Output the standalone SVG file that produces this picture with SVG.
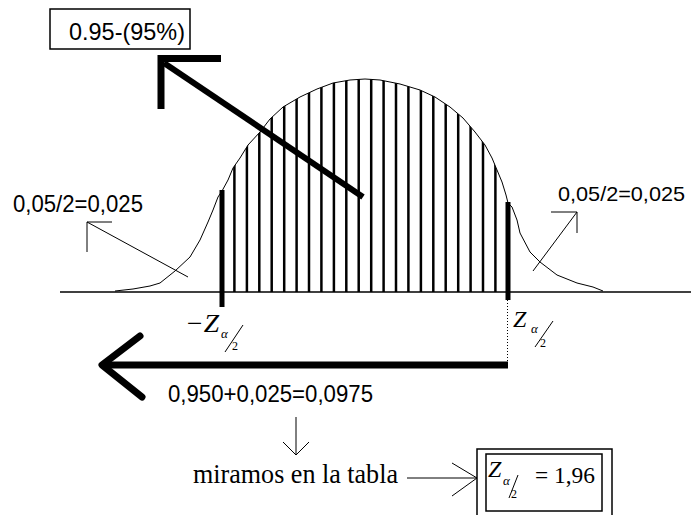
<svg xmlns="http://www.w3.org/2000/svg" width="691" height="515" viewBox="0 0 691 515">
<style>
.sans{font-family:"Liberation Sans",Arial,sans-serif;font-size:24px;fill:#000}
.serif{font-family:"Liberation Serif","Times New Roman",serif;fill:#000}
.it{font-style:italic}
.thin{stroke:#000;stroke-width:1;fill:none}
.hatch line{stroke:#000;stroke-width:2.5}
.thick{stroke:#000;fill:none}
.box{fill:#fff;stroke:#000;stroke-width:1.5}
</style>
<defs>
<clipPath id="under">
<path d="M115,291 L133,289 L150,286 L160,283 L175,271 L190,257 L200,240 L208,222 L213,210 L218,197 L222,191 L228,180 L233,168 L240,158 L248,145 L260,132 L270,119 L283,107 L300,97 L317,89 L333,83 L350,80 L365,79 L380,80 L400,84 L420,90 L435,97 L450,107 L463,118 L475,132 L485,145 L492,158 L497,170 L502,182 L506,195 L508,203 L512,207 L517,220 L520,233 L530,252 L540,262 L557,275 L577,283 L593,287 L603,291 L603,292 L115,292 Z"/>
</clipPath>
</defs>
<rect width="691" height="515" fill="#fff"/>

<g id="curve">
<line x1="60" y1="292" x2="691" y2="292" stroke="#000" stroke-width="1.5"/>
<path class="thin" d="M115,291 L133,289 L150,286 L160,283 L175,271 L190,257 L200,240 L208,222 L213,210 L218,197 L222,191 L228,180 L233,168 L240,158 L248,145 L260,132 L270,119 L283,107 L300,97 L317,89 L333,83 L350,80 L365,79 L380,80 L400,84 L420,90 L435,97 L450,107 L463,118 L475,132 L485,145 L492,158 L497,170 L502,182 L506,195 L508,203 L512,207 L517,220 L520,233 L530,252 L540,262 L557,275 L577,283 L593,287 L603,291"/>
<g class="hatch" clip-path="url(#under)">
<line x1="234.4" y1="60" x2="234.4" y2="292"/>
<line x1="246.9" y1="60" x2="246.9" y2="292"/>
<line x1="259.3" y1="60" x2="259.3" y2="292"/>
<line x1="271.7" y1="60" x2="271.7" y2="292"/>
<line x1="284.2" y1="60" x2="284.2" y2="292"/>
<line x1="296.6" y1="60" x2="296.6" y2="292"/>
<line x1="309.0" y1="60" x2="309.0" y2="292"/>
<line x1="321.4" y1="60" x2="321.4" y2="292"/>
<line x1="333.9" y1="60" x2="333.9" y2="292"/>
<line x1="346.3" y1="60" x2="346.3" y2="292"/>
<line x1="358.7" y1="60" x2="358.7" y2="292"/>
<line x1="371.2" y1="60" x2="371.2" y2="292"/>
<line x1="383.6" y1="60" x2="383.6" y2="292"/>
<line x1="396.0" y1="60" x2="396.0" y2="292"/>
<line x1="408.4" y1="60" x2="408.4" y2="292"/>
<line x1="420.9" y1="60" x2="420.9" y2="292"/>
<line x1="433.3" y1="60" x2="433.3" y2="292"/>
<line x1="445.7" y1="60" x2="445.7" y2="292"/>
<line x1="458.2" y1="60" x2="458.2" y2="292"/>
<line x1="470.6" y1="60" x2="470.6" y2="292"/>
<line x1="483.0" y1="60" x2="483.0" y2="292"/>
<line x1="495.4" y1="60" x2="495.4" y2="292"/>
</g>
<line x1="222" y1="190" x2="222" y2="307" stroke="#000" stroke-width="5"/>
<line x1="508" y1="202" x2="508" y2="300" stroke="#000" stroke-width="5"/>
<line x1="507.5" y1="300" x2="507.5" y2="365" stroke="#000" stroke-width="1" stroke-dasharray="1 2"/>
</g>

<g id="box-95">
<rect class="box" x="50" y="9" width="140" height="40"/>
<text class="sans" x="69" y="40" textLength="116" lengthAdjust="spacingAndGlyphs">0.95-(95%)</text>
</g>

<g id="label-left">
<text class="sans" x="13" y="212" textLength="130" lengthAdjust="spacingAndGlyphs">0,05/2=0,025</text>
</g>

<g id="label-right">
<text class="sans" x="558" y="201" style="font-size:21px" textLength="127" lengthAdjust="spacingAndGlyphs">0,05/2=0,025</text>
</g>

<g id="z-left">
<text class="serif it" x="185" y="332" font-size="26" textLength="34" lengthAdjust="spacingAndGlyphs">−Z</text>
<text class="serif it" x="221" y="338" font-size="13">α</text>
<line class="thin" x1="243" y1="325" x2="225" y2="352"/>
<text class="serif" x="232" y="350" font-size="12">2</text>
</g>

<g id="z-right">
<text class="serif it" x="513" y="327" font-size="24">Z</text>
<text class="serif it" x="531" y="333" font-size="13">α</text>
<line class="thin" x1="553" y1="321" x2="535" y2="347"/>
<text class="serif" x="540" y="347" font-size="12">2</text>
</g>

<g id="sum-label">
<text class="sans" x="168" y="402" textLength="205" lengthAdjust="spacingAndGlyphs">0,950+0,025=0,0975</text>
</g>

<g id="table-label">
<text class="serif" x="193" y="483" font-size="27" textLength="205" lengthAdjust="spacingAndGlyphs">miramos en la tabla</text>
</g>

<g id="result-box">
<rect class="box" x="477" y="449" width="135" height="80"/>
<rect class="box" x="486" y="454" width="116" height="57"/>
<text class="serif it" x="488" y="477" font-size="24">Z</text>
<text class="serif it" x="503" y="485" font-size="13">α</text>
<line class="thin" x1="518" y1="475" x2="509" y2="498"/>
<text class="serif" x="511" y="498" font-size="12">2</text>
<text class="serif" x="535" y="483" font-size="24" textLength="60" lengthAdjust="spacingAndGlyphs">= 1,96</text>
</g>

<g id="connectors">
<line class="thick" x1="363" y1="197" x2="164" y2="63" stroke-width="6"/>
<polyline class="thick" points="221,58.5 161,58.5 161,109" stroke-width="7"/>
<line class="thick" x1="104" y1="365" x2="508" y2="365" stroke-width="7"/>
<polyline class="thick" points="140,336 102,365 142,397" stroke-width="7" stroke-linecap="round" stroke-linejoin="round"/>
<line class="thin" x1="188" y1="277" x2="87" y2="222"/>
<polyline class="thin" points="112,222 87,222 87,252"/>
<line class="thin" x1="533" y1="271" x2="577" y2="212"/>
<polyline class="thin" points="551,212 577,212 577,233"/>
<line class="thin" x1="296" y1="417" x2="296" y2="455"/>
<polyline class="thin" points="283,442 296,455 309,442"/>
<line class="thin" x1="407" y1="478" x2="477" y2="478"/>
<polyline class="thin" points="452,463 477,478 452,496"/>
</g>
</svg>
